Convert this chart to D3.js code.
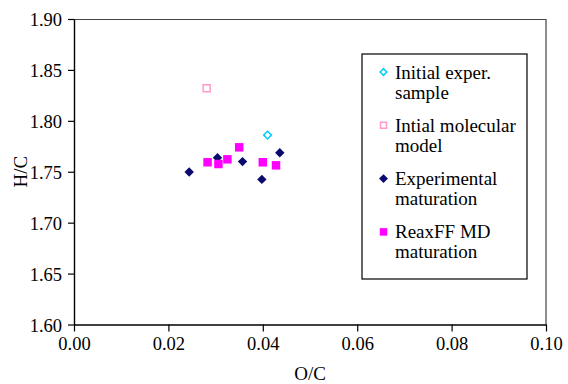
<!DOCTYPE html>
<html>
<head>
<meta charset="utf-8">
<script src="https://cdn.jsdelivr.net/npm/d3@7"></script>
<style>
  body { margin: 0; background: #fff; }
  svg text { font-family: "Liberation Serif", "DejaVu Serif", serif; fill: #000; }
</style>
</head>
<body>
<div id="chart"></div>
<script>
// series values (O/C, H/C)
const initExperOC = [0.0410]
const initExperHC = [1.786]
const initModelOC = [0.0281]
const initModelHC = [1.832]
const expMatOC = [0.0244, 0.0304, 0.0357, 0.0398, 0.0436]
const expMatHC = [1.7497, 1.7638, 1.7600, 1.7425, 1.7687]
const reaxOC = [0.0283, 0.0306, 0.0325, 0.0350, 0.0400, 0.0428]
const reaxHC = [1.7593, 1.7576, 1.7622, 1.7740, 1.7593, 1.7563]

const xTicks = [0, 0.02, 0.04, 0.06, 0.08, 0.10]
const yTicks = [1.60, 1.65, 1.70, 1.75, 1.80, 1.85, 1.90]
const seriesNames = [
  ["Initial exper.", "sample"],
  ["Intial molecular", "model"],
  ["Experimental", "maturation"],
  ["ReaxFF MD", "maturation"]
]

const serif = '"Liberation Serif", "DejaVu Serif", serif'
const W = 568, H = 384
const margin = { top: 19, right: 22, bottom: 59.5, left: 74 }
const width = W - margin.left - margin.right
const height = H - margin.top - margin.bottom

const svg = d3.select('#chart').append('svg')
  .attr('width', W).attr('height', H)

const g = svg.append('g')
  .attr('transform', 'translate(' + margin.left + ',' + margin.top + ')')

const x = d3.scaleLinear().domain([0, 0.1]).range([0, width])
const y = d3.scaleLinear().domain([1.6, 1.9]).range([height, 0])

// frame on top and right
g.append('path')
  .attr('d', 'M0,0.5H' + width + 'V' + height)
  .attr('fill', 'none')
  .attr('stroke', '#444')
  .attr('stroke-width', 1.2)

const xAxis = d3.axisBottom(x).tickValues(xTicks).tickSize(7).tickSizeOuter(0)
  .tickFormat(d3.format('.2f'))
const yAxis = d3.axisLeft(y).tickValues(yTicks).tickSize(6).tickSizeOuter(0)
  .tickFormat(d3.format('.2f'))

const gx = g.append('g')
  .attr('transform', 'translate(0,' + height + ')')
  .call(xAxis)
  .attr('font-family', serif)
  .attr('font-size', 18)
gx.selectAll('text').attr('y', 12).attr('dy', '0.71em').style('font-size', '18.5px')

const gy = g.append('g').call(yAxis)
  .attr('font-family', serif)
  .attr('font-size', 18)
gy.selectAll('text').attr('x', -12).attr('dy', '0.36em').style('font-size', '18.5px')

g.selectAll('.domain').attr('stroke', '#000').attr('stroke-width', 1.4)
g.selectAll('.tick line').attr('stroke', '#000').attr('stroke-width', 1.2)

// axis titles
svg.append('text')
  .attr('x', margin.left + width / 2)
  .attr('y', 380)
  .attr('text-anchor', 'middle')
  .style('font-size', '19px')
  .text('O/C')

svg.append('text')
  .attr('transform', 'translate(27,' + (margin.top + height / 2) + ') rotate(-90)')
  .attr('text-anchor', 'middle')
  .style('font-size', '19px')
  .text('H/C')

// marker shapes
const diamond = d3.symbol().type(d3.symbolSquare).size(44)
const square = d3.symbol().type(d3.symbolSquare).size(72)

function zip(a, b) { return a.map((v, i) => [v, b[i]]) }

// experimental maturation (navy diamonds)
g.selectAll('.expmat')
  .data(zip(expMatOC, expMatHC))
  .enter().append('path')
  .attr('class', 'expmat')
  .attr('d', diamond)
  .attr('transform', d => 'translate(' + x(d[0]) + ',' + y(d[1]) + ') rotate(45)')
  .attr('fill', '#0a0a6e')

// ReaxFF MD maturation (magenta squares)
g.selectAll('.reax')
  .data(zip(reaxOC, reaxHC))
  .enter().append('path')
  .attr('class', 'reax')
  .attr('d', square)
  .attr('transform', d => 'translate(' + x(d[0]) + ',' + y(d[1]) + ')')
  .attr('fill', '#ff00ff')

// initial model (pink open square)
g.selectAll('.initmodel')
  .data(zip(initModelOC, initModelHC))
  .enter().append('path')
  .attr('d', d3.symbol().type(d3.symbolSquare).size(49))
  .attr('transform', d => 'translate(' + x(d[0]) + ',' + y(d[1]) + ')')
  .attr('fill', 'none')
  .attr('stroke', '#ff99cc')
  .attr('stroke-width', 1.5)

// initial experimental sample (cyan open diamond)
g.selectAll('.initexp')
  .data(zip(initExperOC, initExperHC))
  .enter().append('path')
  .attr('d', d3.symbol().type(d3.symbolSquare).size(30))
  .attr('transform', d => 'translate(' + x(d[0]) + ',' + y(d[1]) + ') rotate(45)')
  .attr('fill', 'none')
  .attr('stroke', '#00ccff')
  .attr('stroke-width', 1.5)

// legend
const legend = svg.append('g').attr('transform', 'translate(362,54)')
legend.append('rect')
  .attr('width', 165).attr('height', 225)
  .attr('fill', '#fff')
  .attr('stroke', '#000')
  .attr('stroke-width', 1.2)

const markers = [
  { d: d3.symbol().type(d3.symbolSquare).size(22)(), rot: 45, fill: 'none', stroke: '#00ccff' },
  { d: d3.symbol().type(d3.symbolSquare).size(36)(), rot: 0, fill: 'none', stroke: '#ff99cc' },
  { d: d3.symbol().type(d3.symbolSquare).size(40)(), rot: 45, fill: '#0a0a6e', stroke: 'none' },
  { d: d3.symbol().type(d3.symbolSquare).size(56)(), rot: 0, fill: '#ff00ff', stroke: 'none' }
]

const item = legend.selectAll('.legend')
  .data(seriesNames)
  .enter().append('g')
  .attr('class', 'legend')
  .attr('transform', (d, i) => 'translate(0,' + (i * 53.3) + ')')

item.append('path')
  .attr('d', (d, i) => markers[i].d)
  .attr('transform', (d, i) => 'translate(21.5,18) rotate(' + markers[i].rot + ')')
  .attr('fill', (d, i) => markers[i].fill)
  .attr('stroke', (d, i) => markers[i].stroke)
  .attr('stroke-width', 1.5)

item.append('text')
  .attr('x', 33)
  .attr('y', 24.5)
  .style('font-size', '19px')
  .text(d => d[0])

item.append('text')
  .attr('x', 33)
  .attr('y', 44.5)
  .style('font-size', '19px')
  .text(d => d[1])
</script>
</body>
</html>
